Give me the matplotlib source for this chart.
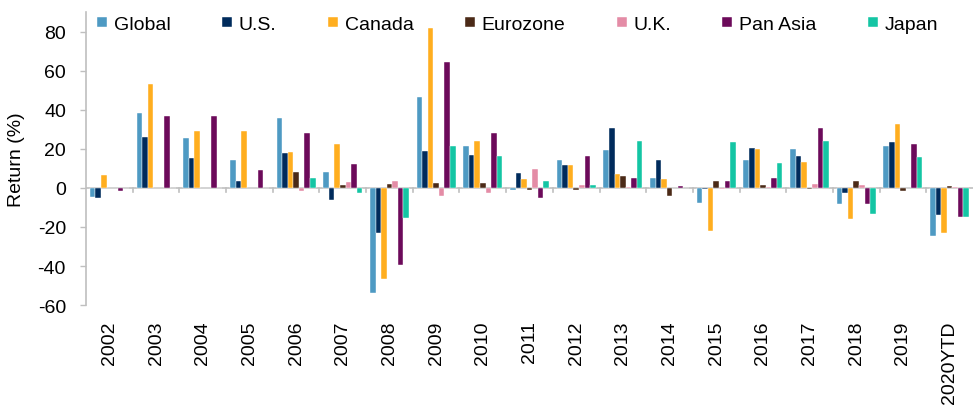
import numpy as np
import matplotlib as mpl
mpl.use('Agg')
import matplotlib.pyplot as plt
from matplotlib.lines import Line2D

years = ['2002', '2003', '2004', '2005', '2006', '2007', '2008', '2009', '2010',
         '2011', '2012', '2013', '2014', '2015', '2016', '2017', '2018', '2019',
         '2020YTD']

series_names = ['Global', 'U.S.', 'Canada', 'Eurozone', 'U.K.', 'Pan Asia', 'Japan']

glob = [-4.5, 38.3, 25.3, 14.4, 35.6, 7.9, -53.9, 46.4, 21.5, -0.9, 14.4, 19.2,
        5.3, -7.6, 14.1, 19.8, -8.4, 21.3, -24.4]
us = [-5.3, 25.8, 15.5, 3.6, 17.9, -6.4, -23.2, 18.7, 16.7, 7.4, 11.7, 30.4,
      14.1, -0.7, 20.6, 16.1, -2.6, 23.7, -14.1]
canada = [6.5, 53.4, 29.2, 28.9, 18.4, 22.7, -46.4, 82.0, 24.2, 4.6, 11.7, 7.0,
          4.3, -22.2, 20.1, 13.1, -16.1, 32.8, -23.2]
eurozone = [0.0, 0.0, 0.0, 0.0, 7.9, 1.5, 2.1, 2.6, 2.7, -1.2, -1.2, 6.2,
            -4.0, 3.6, 1.5, -0.7, 3.3, -1.5, 1.0]
uk = [0.0, 0.0, 0.0, 0.0, -1.7, 3.1, 3.3, -4.3, -2.6, 9.8, 1.5, 0.7,
      0.0, -0.5, 0.2, 2.1, 1.7, 0.0, 0.5]
pan_asia = [-1.5, 36.6, 36.8, 9.1, 28.0, 12.0, -39.3, 64.4, 28.3, -5.3, 16.5, 4.8,
            1.0, 3.4, 5.2, 30.8, -8.1, 22.2, -14.8]
japan = [0.0, 0.0, 0.0, 0.0, 4.8, -2.6, -15.5, 21.3, 16.3, 3.3, 1.7, 24.1,
         0.0, 23.5, 12.5, 24.1, -13.6, 16.0, -14.9]

colors = ['#4E9AC3', '#002B5C', '#FFAE1F', '#4B2A17', '#E48CA6', '#6C0A5A', '#14C5A4']

plt.rcParams['font.family'] = ['Liberation Sans', 'DejaVu Sans']
plt.rcParams['axes.unicode_minus'] = False

fig = plt.figure(figsize=(9.8, 4.06), dpi=100)
ax = fig.add_axes([0.0878, 0.246, 0.905, 0.722])

data = [glob, us, canada, eurozone, uk, pan_asia, japan]
x = np.arange(len(years))
w = 0.119
for i, (name, vals) in enumerate(zip(series_names, data)):
    ax.bar(x + (i - 3) * w, vals, w, color=colors[i], label=name,
           edgecolor='white', linewidth=0.3)

ax.set_xlim(-0.5, len(years) - 0.5)
ax.set_ylim(-60, 90)
ax.set_yticks(np.arange(-60, 81, 20))
ax.tick_params(axis='y', labelsize=14, length=4.5, color='#BFBFBF', width=1, pad=10)
ax.set_ylabel('Return (%)', fontsize=14)
ax.yaxis.set_label_coords(-0.069, 0.5)

# zero line with group separators
ax.axhline(0, color='#BFBFBF', linewidth=1.2, zorder=0)
for b in x[:-1] + 0.5:
    ax.plot([b, b], [0, -2.2], color='#BFBFBF', linewidth=1.2, zorder=0)

ax.set_xticks(x)
ax.set_xticklabels(years, rotation=90, fontsize=14)
ax.tick_params(axis='x', length=0, pad=11)

for s in ['top', 'right', 'bottom']:
    ax.spines[s].set_visible(False)
ax.spines['left'].set_color('#BFBFBF')
ax.spines['left'].set_linewidth(1.2)

handles = [Line2D([], [], marker='s', linestyle='none', markersize=6.5,
                  markerfacecolor=c, markeredgecolor='white', markeredgewidth=0.3)
           for c in colors]
ax.legend(handles, series_names, loc='center left', bbox_to_anchor=(0.003, 0.958),
          ncol=7, frameon=False, fontsize=14, handlelength=0.6, handletextpad=0.3,
          columnspacing=2.6, borderaxespad=0)

fig.savefig('out.png', dpi=100)
